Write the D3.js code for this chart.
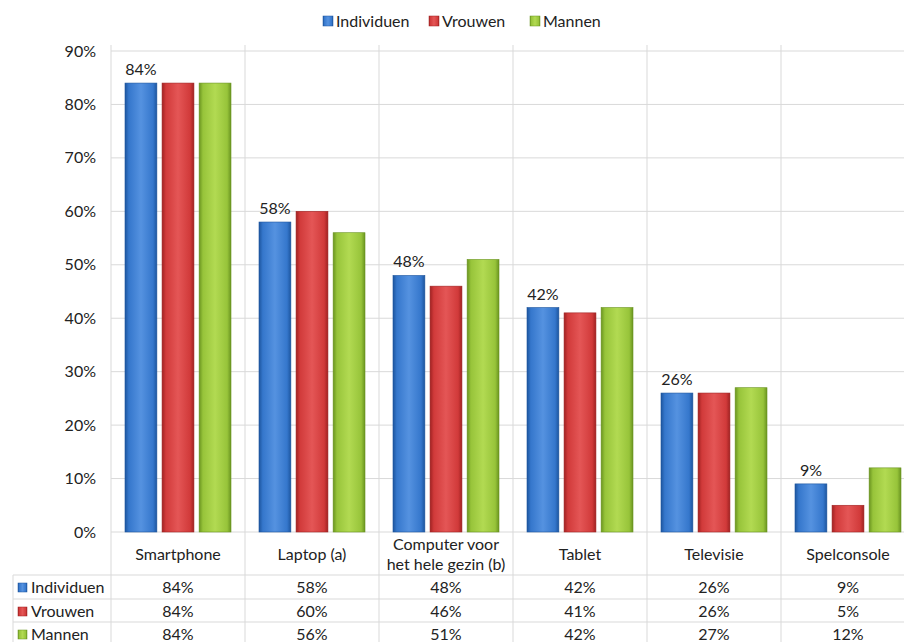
<!DOCTYPE html>
<html lang="nl">
<head>
<meta charset="UTF-8">
<title>Apparaten</title>
<style>
  body { margin: 0; background: #fff; }
  svg { display: block; font-family: Lato, 'Open Sans', sans-serif; }
</style>
<script src="https://d3js.org/d3.v7.min.js"></script>
</head>
<body>
<div id="chart"></div>
<script>
// data
const categories = ["Smartphone", "Laptop (a)", "Computer voor\nhet hele gezin (b)", "Tablet", "Televisie", "Spelconsole"];
const series = ["Individuen", "Vrouwen", "Mannen"];
const individuen = [84, 58, 48, 42, 26, 9];
const vrouwen = [84, 60, 46, 41, 26, 5];
const mannen = [84, 56, 51, 42, 27, 12];
const yTicks = [0, 10, 20, 30, 40, 50, 60, 70, 80, 90];
const values = [individuen, vrouwen, mannen];

const colors = [
  { dark: "#1d559e", mid: "#3577cc", light: "#5592e0" },
  { dark: "#a02222", mid: "#d13a3a", light: "#e45656" },
  { dark: "#6a9420", mid: "#97c43a", light: "#b2da52" }
];

const width = 904, height = 642;
const fs = 16;
const svg = d3.select("#chart").append("svg")
  .attr("width", width).attr("height", height);

const left = 111, catW = 134;
const x0 = d3.scaleBand().domain(d3.range(categories.length))
  .range([left, left + catW * categories.length]);
const x1 = d3.scaleBand().domain(d3.range(series.length))
  .range([14, 120]).paddingInner(0.14);
const y = d3.scaleLinear().domain([0, 90]).range([532, 51]);

const grid = "#d9d9d9";

// gradients
const defs = svg.append("defs");
colors.forEach((c, i) => {
  const g = defs.append("linearGradient").attr("id", "g" + i)
    .attr("x1", 0).attr("x2", 1).attr("y1", 0).attr("y2", 0);
  g.append("stop").attr("offset", 0).attr("stop-color", c.dark);
  g.append("stop").attr("offset", 0.12).attr("stop-color", c.mid);
  g.append("stop").attr("offset", 0.5).attr("stop-color", c.light);
  g.append("stop").attr("offset", 0.88).attr("stop-color", c.mid);
  g.append("stop").attr("offset", 1).attr("stop-color", c.dark);
});

// horizontal gridlines
svg.append("g").selectAll("line").data(yTicks).join("line")
  .attr("x1", left).attr("x2", width)
  .attr("y1", d => y(d)).attr("y2", d => y(d))
  .attr("stroke", grid).attr("stroke-width", 1);

// vertical category separators (through table)
svg.append("g").selectAll("line").data(d3.range(categories.length + 1)).join("line")
  .attr("x1", d => left + d * catW).attr("x2", d => left + d * catW)
  .attr("y1", 45).attr("y2", height)
  .attr("stroke", grid);

// y tick labels
svg.append("g").selectAll("text").data(yTicks).join("text")
  .attr("x", 96).attr("y", d => y(d)).attr("dy", "0.35em")
  .attr("text-anchor", "end").attr("font-size", fs).attr("fill", "#222")
  .text(d => d + "%");

// bars
const groups = svg.append("g").selectAll("g").data(categories).join("g")
  .attr("transform", (d, i) => `translate(${x0(i)},0)`);
groups.selectAll("rect").data((d, i) => values.map((s, j) => ({ j, v: s[i] }))).join("rect")
  .attr("x", d => x1(d.j)).attr("width", x1.bandwidth())
  .attr("y", d => y(d.v)).attr("height", d => y(0) - y(d.v))
  .attr("fill", d => `url(#g${d.j})`)
  .attr("stroke", d => colors[d.j].dark).attr("stroke-width", 0.6);

// data labels for Individuen
groups.append("text")
  .attr("x", (d, i) => x1(0) + x1.bandwidth() / 2)
  .attr("y", (d, i) => y(individuen[i]) - 8)
  .attr("text-anchor", "middle").attr("font-size", fs).attr("fill", "#222")
  .text((d, i) => individuen[i] + "%");

// category labels
groups.append("text")
  .attr("x", catW / 2).attr("text-anchor", "middle")
  .attr("font-size", fs).attr("fill", "#222")
  .each(function(d) {
    const lines = d.split("\n");
    const t = d3.select(this);
    const start = 554 - (lines.length - 1) * 10;
    lines.forEach((l, k) => t.append("tspan").attr("x", catW / 2)
      .attr("y", start + k * 20).attr("dy", "0.35em").text(l));
  });

// table
const rowY = [575, 599, 622];
svg.append("g").selectAll("line").data(rowY).join("line")
  .attr("x1", 13).attr("x2", width)
  .attr("y1", d => d).attr("y2", d => d).attr("stroke", grid);
svg.append("line").attr("x1", 13).attr("x2", 13).attr("y1", 575).attr("y2", height)
  .attr("stroke", grid);

series.forEach((s, j) => {
  const cy = rowY[j] + 12;
  svg.append("rect").attr("x", 18).attr("y", cy - 4).attr("width", 9).attr("height", 9)
    .attr("fill", `url(#g${j})`).attr("stroke", colors[j].dark).attr("stroke-width", 0.5);
  svg.append("text").attr("x", 31).attr("y", cy).attr("dy", "0.35em")
    .attr("font-size", fs).attr("fill", "#222").text(s);
  categories.forEach((c, i) => {
    svg.append("text").attr("x", x0(i) + catW / 2).attr("y", cy).attr("dy", "0.35em")
      .attr("text-anchor", "middle").attr("font-size", fs).attr("fill", "#222")
      .text(values[j][i] + "%");
  });
});

// legend
const legendX = [323, 429, 530];
series.forEach((s, j) => {
  svg.append("rect").attr("x", legendX[j]).attr("y", 16).attr("width", 10).attr("height", 10)
    .attr("fill", `url(#g${j})`).attr("stroke", colors[j].dark).attr("stroke-width", 0.5);
  svg.append("text").attr("x", legendX[j] + 13).attr("y", 21).attr("dy", "0.35em")
    .attr("font-size", fs).attr("fill", "#222").text(s);
});
</script>
</body>
</html>
